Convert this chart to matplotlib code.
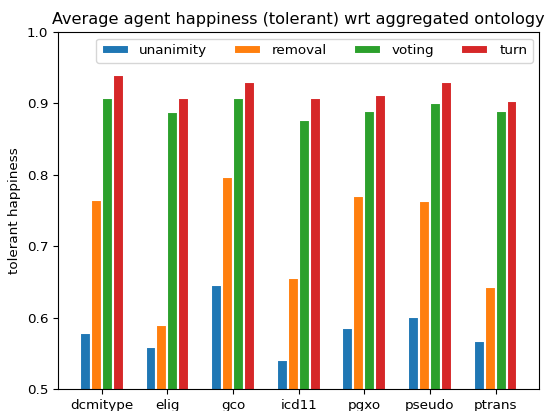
import numpy as np
import matplotlib.pyplot as plt

ontologies = ['dcmitype', 'elig', 'gco', 'icd11', 'pgxo', 'pseudo', 'ptrans']
unanimity = [0.578, 0.559, 0.645, 0.540, 0.586, 0.601, 0.567]
removal = [0.765, 0.590, 0.797, 0.655, 0.771, 0.763, 0.643]
voting = [0.908, 0.888, 0.907, 0.877, 0.890, 0.901, 0.889]
turn = [0.940, 0.908, 0.930, 0.907, 0.912, 0.930, 0.904]

plt.rcParams['font.size'] = 9.7

fig = plt.figure(figsize=(5.47, 4.11), dpi=100)
ax = fig.add_axes([0.106, 0.0535, 0.88, 0.8685])

x = np.arange(len(ontologies))
w = 1 / 6
series = [('unanimity', unanimity), ('removal', removal), ('voting', voting), ('turn', turn)]
for i, (name, vals) in enumerate(series):
    ax.bar(x + (i - 1.5) * w, vals, w, label=name, edgecolor='white', linewidth=1.5)

ax.set_xticks(x)
ax.set_xticklabels(ontologies)
ax.set_ylim(0.5, 1.0)
ax.set_ylabel('tolerant happiness')
ax.set_title('Average agent happiness (tolerant) wrt aggregated ontology', fontsize=11.6)
ax.legend(ncol=4, loc='upper right')

fig.savefig('out.png', dpi=100)
